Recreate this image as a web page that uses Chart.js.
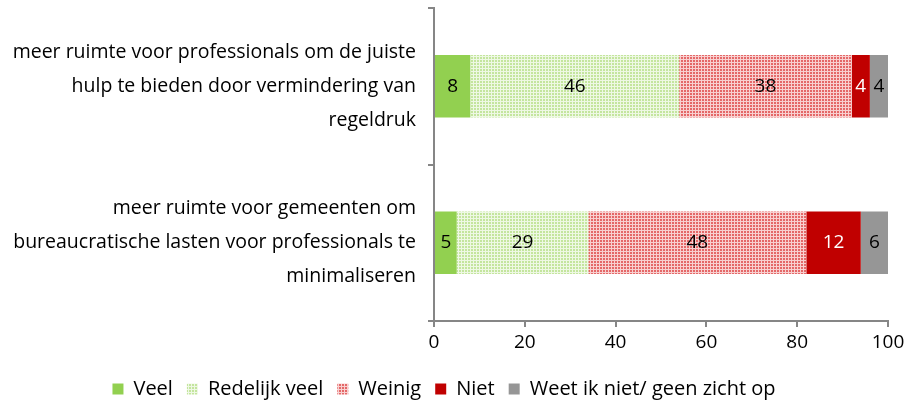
<!DOCTYPE html>
<html>
<head>
<meta charset="utf-8">
<script src="https://cdn.jsdelivr.net/npm/chart.js@4/dist/chart.umd.min.js"></script>
<style>
  html, body { margin: 0; padding: 0; background: #fff; }
  #wrap { width: 912px; height: 401px; }
</style>
</head>
<body>
<div id="wrap"><canvas id="chart"></canvas></div>
<script>
// categories (multi-line labels as in the original)
const categories = [
	['meer ruimte voor professionals om de juiste', 'hulp te bieden door vermindering van', 'regeldruk'],
	['meer ruimte voor gemeenten om', 'bureaucratische lasten voor professionals te', 'minimaliseren']
];
const seriesNames = ['Veel', 'Redelijk veel', 'Weinig', 'Niet', 'Weet ik niet/ geen zicht op'];
const veel = [8, 5];
const redelijkVeel = [46, 29];
const weinig = [38, 48];
const niet = [4, 12];
const weetNiet = [4, 6];
const xTicks = [0, 20, 40, 60, 80, 100];

const FONT = '"Open Sans", Lato, sans-serif';

//builds a small grid tile used as fill pattern (coloured squares, light seams)
function makePattern(base, seam) {
	const c = document.createElement('canvas');
	c.width = 3;
	c.height = 3;
	const g = c.getContext('2d');
	g.fillStyle = seam;
	g.fillRect(0, 0, 3, 3);
	g.fillStyle = base;
	g.fillRect(0, 0, 2, 2);
	return g.createPattern(c, 'repeat');
}

const greenPattern = makePattern('#c4e59e', '#eef8e4');
const redPattern = makePattern('#e46868', '#f8d0d0');

//draws value labels in the middle of each bar segment
const valueLabels = {
	id: 'valueLabels',
	afterDatasetsDraw(chart) {
		const ctx = chart.ctx;
		ctx.save();
		ctx.font = '19px ' + FONT;
		ctx.textAlign = 'center';
		ctx.textBaseline = 'middle';
		chart.data.datasets.forEach((ds, i) => {
			const meta = chart.getDatasetMeta(i);
			meta.data.forEach((bar, j) => {
				const x = (bar.x + bar.base) / 2;
				ctx.fillStyle = ds.labelColor;
				ctx.fillText(String(Math.round(ds.data[j])), x, bar.y);
			});
		});
		ctx.restore();
	}
};

const data = {
	labels: categories,
	datasets: [
		{ label: seriesNames[0], data: veel, backgroundColor: '#92d050', labelColor: '#000' },
		{ label: seriesNames[1], data: redelijkVeel, backgroundColor: greenPattern, labelColor: '#000' },
		{ label: seriesNames[2], data: weinig, backgroundColor: redPattern, labelColor: '#000' },
		{ label: seriesNames[3], data: niet, backgroundColor: '#c00000', labelColor: '#fff' },
		{ label: seriesNames[4], data: weetNiet, backgroundColor: '#969696', labelColor: '#000' }
	]
};

const chart = new Chart(document.getElementById('chart'), {
	type: 'bar',
	data: data,
	plugins: [valueLabels],
	options: {
		indexAxis: 'y',
		responsive: true,
		maintainAspectRatio: false,
		animation: false,
		datasets: {
			bar: { categoryPercentage: 0.4, barPercentage: 1.0, borderWidth: 0 }
		},
		// legend sits low in the original, so let its bottom padding run past the canvas
		layout: { padding: { top: 8, right: 24, bottom: -8, left: 0 } },
		scales: {
			x: {
				stacked: true,
				min: 0,
				max: 100,
				afterBuildTicks: (scale) => { scale.ticks = xTicks.map(v => ({ value: v })); },
				afterFit: (scale) => { scale.height = 44; },
				border: { color: '#868686', width: 2 },
				grid: { drawOnChartArea: false, tickLength: 6, color: '#868686', lineWidth: 2 },
				ticks: { color: '#000', font: { size: 19, family: FONT }, padding: 4, maxRotation: 0 }
			},
			y: {
				stacked: true,
				afterFit: (scale) => {
					scale.width = 434;
					scale.paddingTop = 0;
					scale.paddingBottom = 0;
				},
				border: { color: '#868686', width: 2 },
				grid: { drawOnChartArea: false, tickLength: 6, color: '#868686', lineWidth: 2, offset: true },
				ticks: { color: '#000', font: { size: 19.5, family: FONT, lineHeight: 1.74 }, padding: 12 }
			}
		},
		plugins: {
			legend: {
				position: 'bottom',
				labels: {
					boxWidth: 11,
					boxHeight: 11,
					padding: 14,
					color: '#000',
					font: { size: 20, family: FONT }
				}
			},
			tooltip: { enabled: false }
		}
	}
});
</script>
</body>
</html>
